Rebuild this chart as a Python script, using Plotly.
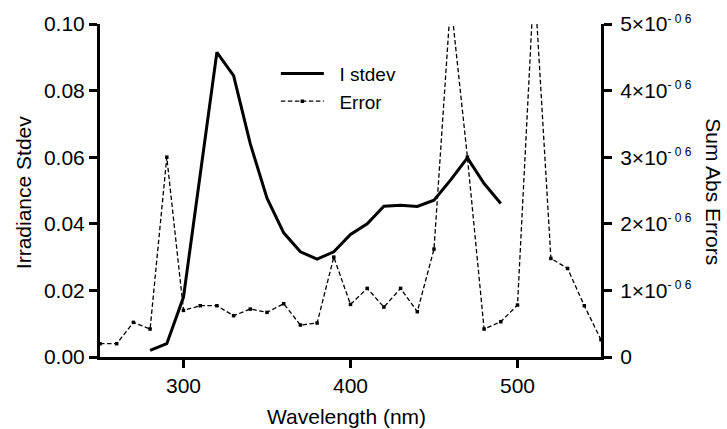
import plotly.graph_objects as go

# Wavelength grid (nm)
wl_err = list(range(250, 551, 10))
wl_std = list(range(280, 491, 10))

# Irradiance standard deviation
i_stdev = [0.0020, 0.0040, 0.0180, 0.0540, 0.0915, 0.0845, 0.0640, 0.0477,
           0.0373, 0.0316, 0.0294, 0.0316, 0.0368, 0.0400, 0.0453, 0.0456,
           0.0452, 0.0471, 0.0532, 0.0598, 0.0521, 0.0461]

# Sum of absolute errors (x 1e-6)
err_e6 = [0.20, 0.20, 0.52, 0.42, 3.00, 0.70, 0.77, 0.77, 0.62, 0.72, 0.67,
          0.80, 0.48, 0.51, 1.50, 0.79, 1.03, 0.75, 1.03, 0.68, 1.62, 5.35,
          3.00, 0.42, 0.53, 0.78, 5.70, 1.48, 1.33, 0.77, 0.26]
sum_abs_err = [v * 1e-6 for v in err_e6]

left_ticks = [0.0, 0.02, 0.04, 0.06, 0.08, 0.10]
right_ticks = [0, 1e-6, 2e-6, 3e-6, 4e-6, 5e-6]
right_ticktext = ["0"] + [
    f"{k}×10<sup><span style='font-size:12px'>- 0 6</span></sup>" for k in range(1, 6)
]

FONT = "Arial, Liberation Sans, sans-serif"
FS = 21
NB = "\u00a0"

fig = go.Figure()
fig.add_trace(go.Scatter(
    x=wl_std, y=i_stdev, name=NB * 2 + "I stdev", mode="lines",
    line=dict(color="black", width=3), yaxis="y",
))
fig.add_trace(go.Scatter(
    x=wl_err, y=sum_abs_err, name=NB * 2 + "Error", mode="lines+markers",
    line=dict(color="black", width=1.3, dash="4.5px,2.5px"),
    marker=dict(symbol="square", size=3.5, color="black"),
    yaxis="y2", cliponaxis=True,
))

axis_common = dict(
    showline=True, linecolor="black", linewidth=3,
    ticks="outside", ticklen=8, tickwidth=3, tickcolor="black",
    showgrid=False, zeroline=False,
    tickfont=dict(family=FONT, size=FS, color="black"),
)

title_font = dict(family=FONT, size=FS, color="black")

fig.update_layout(
    width=727, height=429,
    margin=dict(l=100, r=126, t=24, b=72),
    paper_bgcolor="white", plot_bgcolor="white",
    font=dict(family=FONT, size=FS, color="black"),
    showlegend=True,
    legend=dict(x=0.351, y=0.908, xanchor="left", yanchor="top",
                bgcolor="rgba(0,0,0,0)", font=dict(size=19),
                itemwidth=43, tracegroupgap=0),
    xaxis=dict(range=[250, 550], tickvals=[300, 400, 500], **axis_common),
    yaxis=dict(range=[0, 0.1], tickvals=left_ticks, tickformat=".2f",
               **axis_common),
    yaxis2=dict(range=[0, 5e-6], overlaying="y", side="right", anchor="x",
                tickvals=right_ticks, ticktext=right_ticktext,
                ticklabelstandoff=4, **axis_common),
    annotations=[
        dict(text="Wavelength (nm)", showarrow=False,
             xref="paper", yref="paper", x=0.493, y=-0.180,
             xanchor="center", yanchor="middle", font=title_font),
        dict(text="Irradiance Stdev", textangle=-90, showarrow=False,
             xref="paper", yref="paper", x=-0.1537, y=0.495,
             xanchor="center", yanchor="middle", font=title_font),
        dict(text="Sum Abs Errors", textangle=90, showarrow=False,
             xref="paper", yref="paper", x=1.2255, y=0.495,
             xanchor="center", yanchor="middle", font=title_font),
    ],
)

fig.write_html("out.html")
